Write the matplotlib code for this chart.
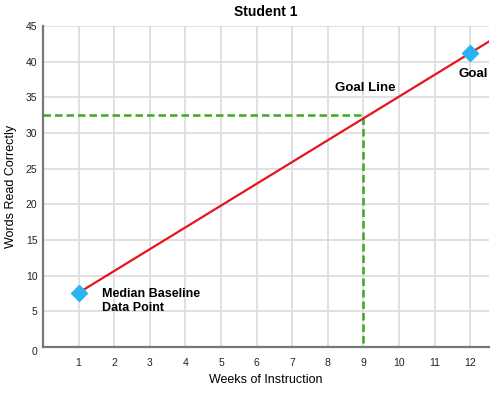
import numpy as np
import matplotlib.pyplot as plt

# data
weeks = [1, 12]
words = [7.6, 41.2]
goal_week = 9
goal_words = 32.5
x_ticks = list(range(1, 13))
y_ticks = list(range(0, 50, 5))

plt.rcParams['font.family'] = ['Liberation Sans', 'DejaVu Sans']

fig = plt.figure(figsize=(5, 3.93), dpi=100)
ax = fig.add_axes([0.086, 0.117, 0.892, 0.817])

xmin, xmax = 0, 12.53
ymin, ymax = 0, 45

# grid
for xv in x_ticks:
    ax.axvline(xv, color='#dddddd', lw=1.3, zorder=0)
for yv in y_ticks[1:]:
    ax.axhline(yv, color='#dddddd', lw=1.3, zorder=0)

# goal line, extended to the right edge
slope = (words[1] - words[0]) / (weeks[1] - weeks[0])
ax.plot([weeks[0], xmax], [words[0], words[0] + slope * (xmax - weeks[0])],
        color='#e8131b', lw=1.6, zorder=3)

# dashed guide at week 9
ax.plot([xmin, goal_week, goal_week], [goal_words, goal_words, ymin],
        color='#3aaa1f', lw=1.8, ls=(0, (3, 1.6)), zorder=2)

ax.plot(weeks, words, ls='none', marker='D', ms=8, color='#28b4f0', zorder=4)

ax.text(1.65, 6.5, 'Median Baseline\nData Point', fontsize=9,
        fontweight='bold', va='center', ha='left', linespacing=1.25)
ax.text(8.2, 36.3, 'Goal Line', fontsize=9.5, fontweight='bold', ha='left', va='center')
ax.text(12.1, 38.3, 'Goal', fontsize=9.5, fontweight='bold', ha='center', va='center')

ax.set_xlim(xmin, xmax)
ax.set_ylim(ymin, ymax)
ax.set_xticks(x_ticks)
ax.set_yticks(y_ticks)
ax.tick_params(length=0, labelsize=7.5, colors='#222222')
ax.tick_params(axis='x', pad=8)
ax.tick_params(axis='y', pad=4)
ax.get_yticklabels()[0].set_verticalalignment('top')

for s in ['top', 'right']:
    ax.spines[s].set_visible(False)
for s in ['left', 'bottom']:
    ax.spines[s].set_color('#777777')
    ax.spines[s].set_linewidth(1.6)

ax.set_title('Student 1', fontsize=10, fontweight='bold', pad=7)
ax.set_xlabel('Weeks of Instruction', fontsize=9, labelpad=4)
ax.set_ylabel('Words Read Correctly', fontsize=9, labelpad=6)

fig.savefig('out.png', dpi=100)
